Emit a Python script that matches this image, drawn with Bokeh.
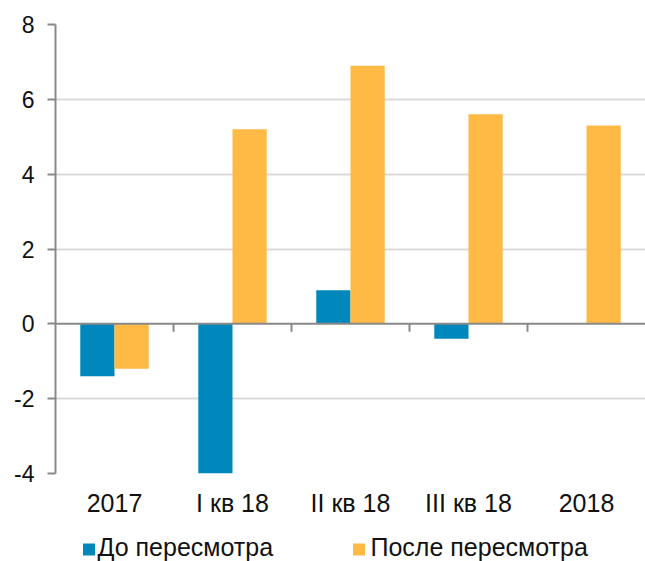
from bokeh.plotting import figure
from bokeh.layouts import column
from bokeh.models import (Range1d, FixedTicker, Span, ColumnDataSource)
from bokeh.core.properties import value
from bokeh.embed import file_html
from bokeh.resources import INLINE

categories = ["2017", "I кв 18", "II кв 18", "III кв 18", "2018"]
before = [-1.4, -4.0, 0.9, -0.4, 0.0]
after = [-1.2, 5.2, 6.9, 5.6, 5.3]
y_ticks = [-4, -2, 0, 2, 4, 6, 8]
series_names = ["До пересмотра", "После пересмотра"]

BLUE = "#0088BC"
ORANGE = "#FFB945"
FONT = "Liberation Sans"
TXT = "#111111"

centers = [i + 0.5 for i in range(len(categories))]
bw = 0.29
src = ColumnDataSource(dict(
    xb=[c - bw / 2 for c in centers],
    xa=[c + bw / 2 for c in centers],
    before=before, after=after))

p = figure(width=645, height=525, output_backend="svg", toolbar_location=None,
           x_range=Range1d(0, len(categories)), y_range=Range1d(y_ticks[0], y_ticks[-1]),
           min_border_left=55, min_border_top=24, min_border_right=0, min_border_bottom=52)
p.outline_line_color = None
p.background_fill_color = "white"

p.xgrid.visible = False
p.ygrid.grid_line_color = "#d9d9d9"
p.ygrid.grid_line_width = 2
p.ygrid.ticker = FixedTicker(ticks=[t for t in y_ticks if t != 0])

p.vbar(x="xb", top="before", bottom=0, width=bw, source=src, fill_color=BLUE, line_color=None)
p.vbar(x="xa", top="after", bottom=0, width=bw, source=src, fill_color=ORANGE, line_color=None)

# zero line with category boundary ticks
p.add_layout(Span(location=0, dimension="width", line_color="#898989", line_width=2))
bounds = list(range(1, len(categories)))
p.segment(x0=bounds, x1=bounds, y0=[0] * len(bounds), y1=[-0.21] * len(bounds),
          line_color="#898989", line_width=2)

ya = p.yaxis[0]
ya.ticker = FixedTicker(ticks=y_ticks)
ya.major_label_overrides = {t: str(t) for t in y_ticks}
ya.axis_line_color = "#898989"
ya.axis_line_width = 2
ya.major_tick_line_color = "#898989"
ya.major_tick_line_width = 2
ya.major_tick_out = 8
ya.major_tick_in = 0
ya.minor_tick_line_color = None
ya.major_label_text_font = FONT
ya.major_label_text_font_size = "23px"
ya.major_label_text_color = TXT
ya.major_label_standoff = 13

xa = p.xaxis[0]
xa.ticker = FixedTicker(ticks=centers)
xa.major_label_overrides = {c: lab for c, lab in zip(centers, categories)}
xa.axis_line_color = None
xa.major_tick_line_color = None
xa.minor_tick_line_color = None
xa.major_label_text_font = FONT
xa.major_label_text_font_size = "25px"
xa.major_label_text_color = TXT
xa.major_label_standoff = 9

# legend strip (pixel coordinates; frame aligned with the main plot's frame)
lg = figure(width=645, height=36, output_backend="svg", toolbar_location=None,
            x_range=Range1d(55, 645), y_range=Range1d(0, 36),
            min_border_left=55, min_border_right=0, min_border_top=0, min_border_bottom=0)
lg.axis.visible = False
lg.grid.visible = False
lg.outline_line_color = None
lg.rect(x=[88.5, 358.5], y=[12, 12], width=12, height=12, width_units="screen",
        height_units="screen", fill_color=[BLUE, ORANGE], line_color=None)
lg.text(x=[97, 370], y=[15, 15], text=series_names, text_font=value(FONT),
        text_font_size="25px", text_color=TXT, text_baseline="middle", text_align="left")

layout = column(p, lg, spacing=0)
open("out.html", "w").write(file_html(layout, INLINE))
